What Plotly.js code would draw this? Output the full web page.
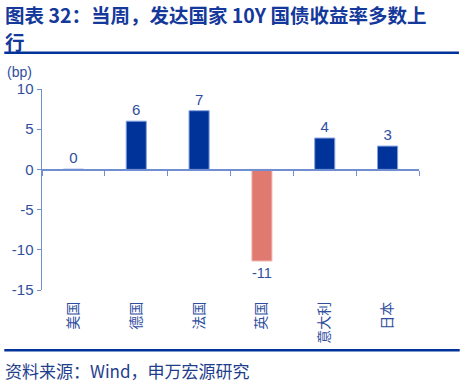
<!DOCTYPE html>
<html>
<head>
<meta charset="utf-8">
<script src="https://cdn.plot.ly/plotly-3.0.1.min.js"></script>
<style>
html,body{margin:0;padding:0;background:#fff;}
#chart{width:462px;height:385px;}
</style>
</head>
<body>
<div id="chart"></div>
<script>
// Data
const countries = ["美国", "德国", "法国", "英国", "意大利", "日本"];
const changeBp = [0.02, 6.0, 7.3, -11.4, 3.9, 2.9];
const yTickVals = [10, 5, 0, -5, -10, -15];

const titleLine1 = "图表 32：当周，发达国家 10Y 国债收益率多数上";
const titleLine2 = "行";
const sourceText = "资料来源：Wind，申万宏源研究";
const unitText = "(bp)";

const DARK = "#003399";
const NEG = "#E07A70";
const AXIS = "#6F8FD2";
const TXT = "#2F4E9E";
const FONT = "Liberation Sans, Noto Sans CJK SC, sans-serif";
const CJK = "Noto Sans CJK SC, sans-serif";

const barColors = changeBp.map(v => v < 0 ? NEG : DARK);
const lineColors = changeBp.map(v => v < 0 ? "#F3BDB8" : "#86A2E0");

const traces = [
  {
    type: "bar",
    x: countries,
    y: changeBp,
    xaxis: "x",
    yaxis: "y",
    marker: {color: barColors, line: {color: lineColors, width: 1}},
    texttemplate: "%{y:.0f}",
    textposition: "outside",
    cliponaxis: false,
    textfont: {family: FONT, size: 15, color: TXT},
    hoverinfo: "skip",
    showlegend: false
  },
  {
    type: "bar",
    x: countries,
    y: changeBp,
    xaxis: "x2",
    yaxis: "y",
    marker: {color: "rgba(0,0,0,0)"},
    hoverinfo: "skip",
    showlegend: false
  }
];

const titleFont = {family: CJK, size: 19.5, color: "#14399A", weight: "bold"};

const layout = {
  width: 462,
  height: 385,
  margin: {l: 42, r: 43, t: 89, b: 95, pad: 0},
  paper_bgcolor: "#ffffff",
  plot_bgcolor: "#ffffff",
  bargap: 0.68,
  barmode: "overlay",
  font: {family: FONT, color: TXT, size: 14},
  xaxis: {
    type: "category",
    anchor: "y",
    showline: false,
    ticks: "",
    showgrid: false,
    zeroline: false,
    tickangle: -90,
    tickfont: {family: CJK, size: 14, color: TXT},
    ticklabelstandoff: 8
  },
  xaxis2: {
    type: "category",
    overlaying: "x",
    matches: "x",
    anchor: "free",
    position: 0.6,
    side: "bottom",
    showline: true,
    linecolor: AXIS,
    linewidth: 1.5,
    ticks: "outside",
    tickson: "boundaries",
    ticklen: 5,
    tickcolor: AXIS,
    tickwidth: 1,
    showticklabels: false,
    showgrid: false,
    zeroline: false
  },
  yaxis: {
    range: [-15, 10],
    tickmode: "array",
    tickvals: yTickVals,
    ticktext: yTickVals.map(String),
    showline: true,
    linecolor: AXIS,
    linewidth: 1.5,
    ticks: "outside",
    ticklen: 4,
    tickcolor: AXIS,
    showgrid: false,
    zeroline: false,
    tickfont: {family: FONT, size: 15, color: TXT}
  },
  annotations: [
    {
      text: titleLine1, xref: "paper", yref: "paper",
      x: -0.103, y: 1.372, xanchor: "left", yanchor: "middle", align: "left",
      showarrow: false, font: titleFont
    },
    {
      text: titleLine2, xref: "paper", yref: "paper",
      x: -0.103, y: 1.234, xanchor: "left", yanchor: "middle", align: "left",
      showarrow: false, font: titleFont
    },
    {
      text: unitText, xref: "paper", yref: "paper",
      x: -0.06, y: 1.085, xanchor: "center", yanchor: "middle",
      showarrow: false,
      font: {family: FONT, size: 14, color: TXT}
    },
    {
      text: sourceText, xref: "paper", yref: "paper",
      x: -0.103, y: -0.40, xanchor: "left", yanchor: "middle", align: "left",
      showarrow: false,
      font: {family: CJK, size: 17, color: "#1F3E8C"}
    }
  ],
  shapes: [
    {type: "line", xref: "paper", yref: "paper", x0: -0.1, x1: 1.106, y0: 1.18, y1: 1.18,
     line: {color: "#003399", width: 2.5}},
    {type: "line", xref: "paper", yref: "paper", x0: -0.1, x1: 1.108, y0: -0.2995, y1: -0.2995,
     line: {color: "#003399", width: 2.5}}
  ]
};

Plotly.newPlot("chart", traces, layout, {displayModeBar: false, staticPlot: true});
</script>
</body>
</html>
